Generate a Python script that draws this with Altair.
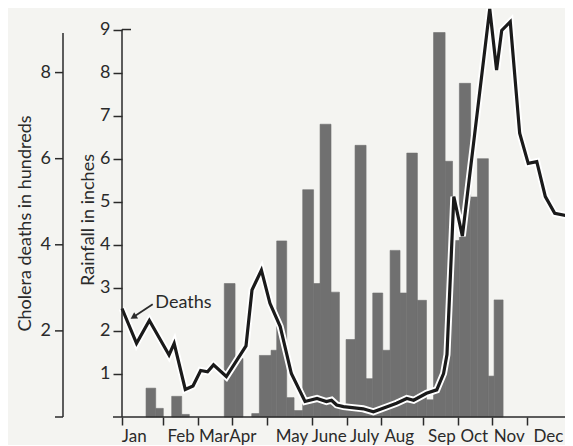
import altair as alt
import pandas as pd

# ---------------- data ----------------
# weekly rainfall columns: start / end in weeks from 1 Jan, height in inches
rain_start = [2.81, 3.94, 5.81, 6.98, 11.96, 13.22, 15.17, 16.06, 17.43, 18.09,
              19.26, 20.12, 21.13, 22.4, 23.16, 24.44, 25.42, 26.2, 27.25, 28.54,
              29.32, 30.49, 31.35, 32.51, 33.3, 34.54, 35.6, 36.43, 37.78, 38.65,
              39.45, 40.76, 41.56, 42.84, 43.51]
rain_end = [3.94, 4.83, 6.98, 7.87, 13.22, 14.15, 16.06, 17.43, 18.09, 19.26,
            20.12, 21.13, 22.4, 23.16, 24.44, 25.42, 26.2, 27.25, 28.54, 29.32,
            30.49, 31.35, 32.51, 33.3, 34.54, 35.6, 36.43, 37.78, 38.65, 39.45,
            40.76, 41.56, 42.84, 43.51, 44.56]
rain_in = [0.67, 0.2, 0.48, 0.06, 3.1, 1.36, 0.08, 1.43, 1.55, 4.09,
           0.45, 0.15, 5.28, 3.1, 6.8, 2.9, 0.22, 1.8, 6.31, 0.89,
           2.88, 1.55, 3.87, 2.88, 6.13, 2.71, 0.4, 8.93, 5.94, 4.1,
           7.75, 5.11, 6.0, 0.95, 2.72]

# cholera deaths (hundreds), vertices of the line
death_week = [0, 1.7, 3.2, 5.5, 6.1, 7.4, 8.3, 9.2, 10.0, 10.7,
              12.2, 14.5, 15.2, 16.3, 17.3, 18.5, 19.8, 21.4, 22.8, 23.9,
              24.5, 25.1, 25.9, 28.2, 29.4, 31.0, 32.1, 33.3, 34.1, 35.6,
              36.8, 37.6, 38.0, 38.8, 39.8, 43.0, 43.8, 44.4, 45.4, 46.5,
              47.5, 48.5, 49.5, 50.6, 52.1]
death_h = [2.52, 1.71, 2.24, 1.44, 1.71, 0.64, 0.72, 1.08, 1.05, 1.21,
           0.94, 1.65, 2.95, 3.41, 2.64, 2.1, 1.01, 0.36, 0.43, 0.36,
           0.39, 0.28, 0.24, 0.19, 0.12, 0.24, 0.32, 0.43, 0.39, 0.55,
           0.63, 1.01, 1.45, 5.12, 4.2, 9.48, 8.06, 8.98, 9.18, 6.59,
           5.89, 5.93, 5.12, 4.73, 4.67]

month_ticks = [0, 4.8, 8.85, 12.9, 17.0, 22.2, 26.3, 30.3, 35.2, 39.3, 43.3, 47.3]
months = ["Jan", "Feb", "Mar", "Apr", "May", "June", "July", "Aug", "Sep", "Oct", "Nov", "Dec"]
month_pos = [1.43, 6.92, 10.76, 14.13, 19.88, 24.23, 28.38, 32.42, 37.4, 41.19, 45.28, 49.86]

rain_ticks = [1, 2, 3, 4, 5, 6, 7, 8, 9]
death_ticks = [0, 2, 4, 6, 8]
death_labels = [2, 4, 6, 8]

# ---------------- styling ----------------
W, H = 443, 409
INK = "#2a2a2a"
BAR = "#707070"
FONT = "Lato"
FS = 18
xs = alt.Scale(domain=[0, 51.8], nice=False, zero=False)
ys = alt.Scale(domain=[0, 9.5], nice=False, zero=True)

rain_df = pd.DataFrame({"start": rain_start, "end": rain_end, "rain": rain_in})
death_df = pd.DataFrame({"week": death_week, "deaths": death_h,
                         "i": list(range(len(death_week)))})
one = pd.DataFrame({"a": [0]})

bars = alt.Chart(rain_df).mark_rect(color=BAR, stroke=BAR, strokeWidth=0.6).encode(
    x=alt.X("start:Q", scale=xs,
            axis=alt.Axis(values=month_ticks, labels=False, tickSize=8,
                          tickWidth=1.5, tickColor=INK, domain=False,
                          grid=False, title=None)),
    x2="end:Q",
    y=alt.Y("rain:Q", scale=ys,
            axis=alt.Axis(values=rain_ticks, tickSize=9, tickWidth=1.5,
                          tickColor=INK, domain=False, grid=False, title=None,
                          labelFont=FONT, labelFontSize=FS, labelColor=INK,
                          labelPadding=3)),
    y2=alt.datum(0),
)

halo = alt.Chart(death_df).mark_line(color="white", strokeWidth=7, clip=False).encode(
    x=alt.X("week:Q", scale=xs), y=alt.Y("deaths:Q", scale=ys), order="i:Q")
line = alt.Chart(death_df).mark_line(color="#1a1a1a", strokeWidth=3.2, clip=False).encode(
    x=alt.X("week:Q", scale=xs), y=alt.Y("deaths:Q", scale=ys), order="i:Q")

# axis lines
x_line = alt.Chart(one).mark_rule(color=INK, strokeWidth=1.5).encode(
    x=alt.value(-9), x2=alt.value(W), y=alt.datum(0))
rain_line = alt.Chart(one).mark_rule(color=INK, strokeWidth=1.5).encode(
    x=alt.value(0), y=alt.datum(0), y2=alt.datum(9))
rain_cap = alt.Chart(one).mark_rule(color=INK, strokeWidth=1.5).encode(
    x=alt.value(0), x2=alt.value(9), y=alt.datum(9))

death_line = alt.Chart(one).mark_rule(color=INK, strokeWidth=1.5).encode(
    x=alt.value(-59), y=alt.datum(0), y2=alt.datum(8.92))
death_tick = alt.Chart(pd.DataFrame({"v": death_ticks})).mark_rule(
    color=INK, strokeWidth=1.5).encode(
    x=alt.value(-67), x2=alt.value(-59), y=alt.Y("v:Q", scale=ys))
death_lab = alt.Chart(pd.DataFrame({"v": death_labels})).mark_text(
    align="right", baseline="middle", font=FONT, fontSize=FS, color=INK).encode(
    x=alt.value(-71), y=alt.Y("v:Q", scale=ys), text="v:Q")

title_d = alt.Chart(pd.DataFrame({"t": ["Cholera deaths in hundreds"]})).mark_text(
    angle=270, align="center", baseline="middle", font=FONT, fontSize=FS,
    color=INK).encode(x=alt.value(-96), y=alt.value(215.5), text="t:N")
title_r = alt.Chart(pd.DataFrame({"t": ["Rainfall in inches"]})).mark_text(
    angle=270, align="center", baseline="middle", font=FONT, fontSize=FS,
    color=INK).encode(x=alt.value(-33), y=alt.value(212), text="t:N")

month_lab = alt.Chart(pd.DataFrame({"m": months, "p": month_pos})).mark_text(
    align="center", baseline="middle", font=FONT, fontSize=17, color=INK).encode(
    x=alt.X("p:Q", scale=xs), y=alt.value(H + 20), text="m:N")

# "Deaths" annotation with arrow
ann = pd.DataFrame({"x0": [3.59], "y0": [2.62], "x1": [1.33], "y1": [2.32],
                    "tx": [3.9], "ty": [2.65], "t": ["Deaths"]})
arrow = alt.Chart(ann).mark_rule(color=INK, strokeWidth=1.8).encode(
    x=alt.X("x0:Q", scale=xs), y=alt.Y("y0:Q", scale=ys), x2="x1:Q", y2="y1:Q")
head = alt.Chart(ann).mark_point(shape="triangle-up", filled=True, size=55,
                                 angle=238, color=INK, opacity=1).encode(
    x=alt.X("x1:Q", scale=xs), y=alt.Y("y1:Q", scale=ys))
ann_text = alt.Chart(ann).mark_text(align="left", baseline="middle", font=FONT,
                                    fontSize=FS, color=INK).encode(
    x=alt.X("tx:Q", scale=xs), y=alt.Y("ty:Q", scale=ys), text="t:N")

chart = alt.layer(
    bars, halo, line, x_line, rain_line, rain_cap, death_line, death_tick,
    death_lab, title_d, title_r, month_lab, arrow, head, ann_text
).properties(
    width=W, height=H,
    padding={"left": 114, "top": 0, "right": 0, "bottom": 28},
    autosize=alt.AutoSizeParams(type="none"),
    background="#f4f4f1",
).configure_view(stroke=None)

chart.save("out.html", embed_options={"renderer": "svg", "actions": False})
